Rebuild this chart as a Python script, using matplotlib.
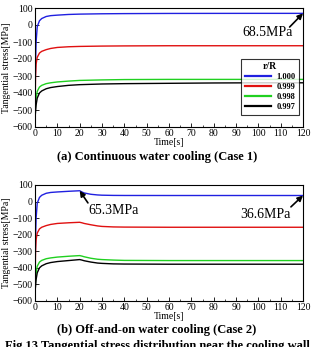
import matplotlib
matplotlib.use("Agg")
import matplotlib.pyplot as plt
import numpy as np
from matplotlib.ticker import MultipleLocator

plt.rcParams['font.family'] = ['Liberation Serif', 'DejaVu Serif']

# Case 1: continuous cooling
t1 = [0, 0.25, 0.5, 1, 2, 3, 5, 7, 10, 15, 20, 30, 40, 60, 80, 100, 120]
c1_blue = [-450, -220, -100, -10, 25, 38, 50, 55, 58, 62, 64, 66, 67, 68, 68.3, 68.5, 68.5]
c1_red = [-500, -300, -230, -190, -165, -155, -145, -138, -132, -128, -126, -124, -123, -122, -122, -122, -122]
c1_green = [-520, -470, -430, -390, -365, -355, -345, -340, -335, -330, -326, -323, -321, -320, -320, -320, -320]
c1_black = [-545, -510, -470, -430, -400, -388, -375, -368, -362, -355, -351, -347, -345, -343, -341, -340, -340]

# Case 2: off-and-on cooling
t2 = [0, 0.25, 0.5, 1, 2, 3, 5, 7, 10, 15, 20, 21, 22, 25, 28, 30, 35, 40, 60, 80, 100, 120]
c2_blue = [-450, -220, -100, -10, 25, 38, 50, 55, 58, 62, 65.3, 58, 52, 44, 40, 38.5, 37.2, 36.8, 36.6, 36.6, 36.6, 36.6]
c2_red = [-500, -300, -230, -190, -165, -155, -145, -138, -132, -128, -125, -128, -132, -140, -147, -150, -153, -154, -155, -155, -155, -155]
c2_green = [-520, -470, -430, -390, -365, -355, -345, -340, -335, -330, -326, -329, -333, -342, -348, -350, -353, -355, -356, -356, -356, -356]
c2_black = [-545, -510, -470, -430, -400, -388, -375, -368, -362, -356, -350, -353, -357, -365, -371, -373, -376, -377, -378, -378, -378, -378]

labels = ['1.000', '0.999', '0.998', '0.997']
colors = ['#2020e0', '#e01010', '#20d020', '#000000']

fig = plt.figure(figsize=(3.14, 3.47), dpi=100)
W, H = 314, 347

def make_ax(left, top, right, bottom):
    return fig.add_axes([left / W, 1 - bottom / H, (right - left) / W, (bottom - top) / H])

ax1 = make_ax(35, 8, 303, 127)
ax2 = make_ax(35, 185, 303, 301)

for ax, t, series in [(ax1, t1, [c1_blue, c1_red, c1_green, c1_black]),
                      (ax2, t2, [c2_blue, c2_red, c2_green, c2_black])]:
    for s, c, lab in zip(series, colors, labels):
        ax.plot(t, s, color=c, lw=1.0, label=lab)
    ax.set_xlim(0, 120)
    ax.set_ylim(-600, 100)
    ax.xaxis.set_major_locator(MultipleLocator(10))
    ax.xaxis.set_minor_locator(MultipleLocator(5))
    ax.yaxis.set_major_locator(MultipleLocator(100))
    ax.tick_params(direction='in', labelsize=7, length=3, width=0.6, pad=1.5)
    ax.tick_params(which='minor', direction='in', length=1.5, width=0.5)
    ax.set_xlabel('Time[s]', fontsize=7, labelpad=0)
    ax.set_ylabel('Tangential stress[MPa]', fontsize=7, labelpad=0)
    ax.yaxis.set_label_coords(-0.09, 0.5)
    for sp in ax.spines.values():
        sp.set_linewidth(0.8)

leg = ax1.legend(title='r/R', loc='lower right', prop={'size': 6, 'weight': 'bold'},
                 title_fontsize=7, frameon=True, fancybox=False, edgecolor='black',
                 handlelength=3.2, borderpad=0.4, labelspacing=0.25, handletextpad=0.6,
                 bbox_to_anchor=(1.0, 0.07))
leg.get_title().set_fontweight('bold')
leg.get_frame().set_linewidth(0.8)
for ln in leg.get_lines():
    ln.set_linewidth(1.6)

arrow = dict(arrowstyle='-|>', color='black', lw=1.2, mutation_scale=8, shrinkA=0, shrinkB=0)

ax1.text(104, -47, '68.5MPa', fontsize=10, ha='center', va='center')
ax1.annotate('', xy=(120, 68.5), xytext=(114, -12), arrowprops=arrow)

ax2.text(35.4, -51, '65.3MPa', fontsize=10, ha='center', va='center')
ax2.annotate('', xy=(20, 65.3), xytext=(23.7, -8), arrowprops=arrow)

ax2.text(103.4, -81, '36.6MPa', fontsize=10, ha='center', va='center')
ax2.annotate('', xy=(120, 36.6), xytext=(114.6, -32), arrowprops=arrow)

fig.text(0.5, 1 - 157 / H, '(a) Continuous water cooling (Case 1)', ha='center', va='center',
         fontsize=9, fontweight='bold')
fig.text(0.5, 1 - 330 / H, '(b) Off-and-on water cooling (Case 2)', ha='center', va='center',
         fontsize=9, fontweight='bold')
fig.text(0.5, 1 - 340 / H, 'Fig.13 Tangential stress distribution near the cooling wall', ha='center', va='top',
         fontsize=9, fontweight='bold')

fig.savefig('out.png', dpi=100)
